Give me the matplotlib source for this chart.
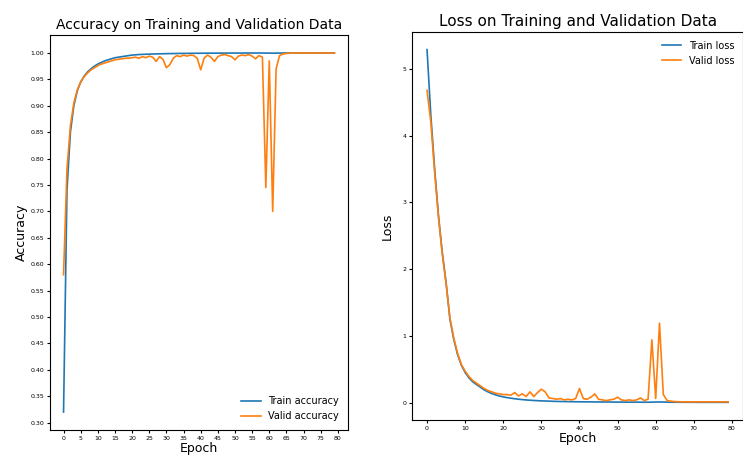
import matplotlib
matplotlib.use("Agg")
import matplotlib.pyplot as plt

epochs = list(range(80))

train_acc = [
    0.32, 0.74, 0.85, 0.90, 0.928, 0.945, 0.956, 0.964, 0.970, 0.975,
    0.979, 0.982, 0.985, 0.987, 0.989, 0.991, 0.992, 0.993, 0.994, 0.995,
    0.996, 0.9965, 0.997, 0.9973, 0.9976, 0.9978, 0.998, 0.9982, 0.9984, 0.9985,
    0.9987, 0.9988, 0.9989, 0.999, 0.9991, 0.9992, 0.9992, 0.9993, 0.9994, 0.9994,
    0.9995, 0.9995, 0.9996, 0.9996, 0.9996, 0.9997, 0.9997, 0.9997, 0.9998, 0.9998,
    0.9998, 0.9998, 0.9998, 0.9999, 0.9999, 0.9999, 0.9999, 0.9999, 0.9999, 0.9998,
    0.9997, 0.9996, 0.9997, 0.9998, 0.9999, 0.9999, 1.0, 1.0, 1.0, 1.0,
    1.0, 1.0, 1.0, 1.0, 1.0, 1.0, 1.0, 1.0, 1.0, 1.0,
]
valid_acc = [
    0.58, 0.78, 0.862, 0.905, 0.93, 0.945, 0.955, 0.962, 0.968, 0.972,
    0.976, 0.979, 0.981, 0.983, 0.985, 0.987, 0.988, 0.989, 0.99, 0.99,
    0.991, 0.992, 0.990, 0.993, 0.991, 0.994, 0.992, 0.984, 0.993, 0.988,
    0.972, 0.978, 0.99, 0.995, 0.993, 0.996, 0.994, 0.996, 0.995, 0.99,
    0.968, 0.99, 0.996, 0.992, 0.984, 0.993, 0.996, 0.997, 0.995, 0.993,
    0.987, 0.994, 0.996, 0.995, 0.997, 0.994, 0.989, 0.995, 0.992, 0.745,
    0.985, 0.70, 0.97, 0.995, 0.998, 0.999, 0.9995, 1.0, 1.0, 1.0,
    1.0, 1.0, 1.0, 1.0, 1.0, 1.0, 1.0, 1.0, 1.0, 1.0,
]

train_loss = [
    5.29, 4.30, 3.50, 2.80, 2.25, 1.80, 1.25, 0.95, 0.72, 0.56,
    0.45, 0.37, 0.31, 0.27, 0.23, 0.19, 0.16, 0.135, 0.115, 0.098,
    0.085, 0.074, 0.065, 0.057, 0.050, 0.044, 0.039, 0.035, 0.031, 0.028,
    0.025, 0.023, 0.021, 0.019, 0.017, 0.016, 0.015, 0.014, 0.013, 0.012,
    0.011, 0.011, 0.010, 0.010, 0.009, 0.009, 0.008, 0.008, 0.008, 0.007,
    0.007, 0.007, 0.006, 0.006, 0.006, 0.006, 0.005, 0.005, 0.005, 0.006,
    0.008, 0.009, 0.007, 0.006, 0.005, 0.005, 0.004, 0.004, 0.004, 0.004,
    0.004, 0.003, 0.003, 0.003, 0.003, 0.003, 0.003, 0.003, 0.003, 0.003,
]
valid_loss = [
    4.68, 4.20, 3.45, 2.78, 2.22, 1.78, 1.27, 0.97, 0.74, 0.57,
    0.47, 0.39, 0.33, 0.29, 0.25, 0.21, 0.18, 0.16, 0.14, 0.13,
    0.12, 0.12, 0.11, 0.15, 0.10, 0.13, 0.09, 0.16, 0.09, 0.15,
    0.20, 0.16, 0.07, 0.06, 0.05, 0.06, 0.04, 0.05, 0.04, 0.06,
    0.21, 0.06, 0.05, 0.08, 0.13, 0.05, 0.04, 0.03, 0.04, 0.05,
    0.08, 0.04, 0.03, 0.04, 0.03, 0.04, 0.07, 0.03, 0.05, 0.94,
    0.06, 1.19, 0.12, 0.03, 0.02, 0.015, 0.012, 0.01, 0.01, 0.01,
    0.01, 0.01, 0.01, 0.01, 0.01, 0.01, 0.01, 0.01, 0.01, 0.01,
]

acc_yticks = [0.30, 0.35, 0.40, 0.45, 0.50, 0.55, 0.60, 0.65, 0.70, 0.75,
              0.80, 0.85, 0.90, 0.95, 1.00]
acc_xticks = list(range(0, 81, 5))
loss_yticks = [0, 1, 2, 3, 4, 5]
loss_xticks = list(range(0, 81, 10))

fig = plt.figure(figsize=(7.43, 4.68), dpi=100)
fig.patch.set_facecolor("white")

# left panel: accuracy
ax1 = fig.add_axes([0.0673, 0.0812, 0.401, 0.844])
ax1.plot(epochs, train_acc, linewidth=1.2, label="Train accuracy")
ax1.plot(epochs, valid_acc, linewidth=1.2, label="Valid accuracy")
ax1.set_title("Accuracy on Training and Validation Data", fontsize=10, pad=4)
ax1.set_xlabel("Epoch", fontsize=9, labelpad=1)
ax1.set_ylabel("Accuracy", fontsize=9, labelpad=2)
ax1.set_xticks(acc_xticks)
ax1.set_yticks(acc_yticks)
ax1.tick_params(labelsize=4.5, length=2, pad=2)
ax1.legend(loc="lower right", fontsize=7, frameon=False)

# right panel: loss
ax2 = fig.add_axes([0.5545, 0.1026, 0.4457, 0.829])
ax2.plot(epochs, train_loss, linewidth=1.2, label="Train loss")
ax2.plot(epochs, valid_loss, linewidth=1.2, label="Valid loss")
ax2.set_title("Loss on Training and Validation Data", fontsize=11, pad=4)
ax2.set_xlabel("Epoch", fontsize=9, labelpad=1)
ax2.set_ylabel("Loss", fontsize=9, labelpad=6)
ax2.set_xticks(loss_xticks)
ax2.set_yticks(loss_yticks)
ax2.tick_params(labelsize=4.5, length=2, pad=2)
ax2.legend(loc="upper right", fontsize=7, frameon=False)

fig.savefig("out.png", dpi=100, facecolor=fig.get_facecolor())
